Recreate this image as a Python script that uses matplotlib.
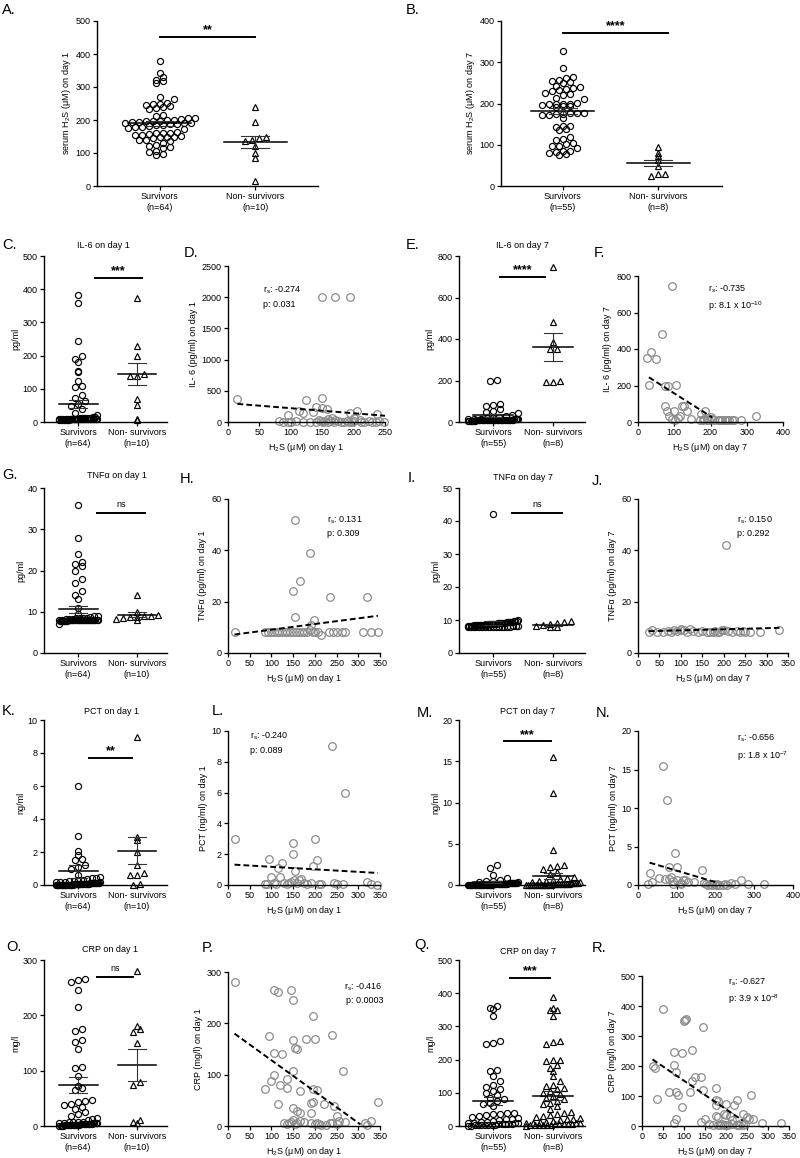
import numpy as np
import matplotlib
matplotlib.use("Agg")
import matplotlib.pyplot as plt

plt.rcParams['font.family'] = ['Liberation Sans', 'DejaVu Sans']
plt.rcParams['mathtext.fontset'] = 'custom'
plt.rcParams['mathtext.rm'] = 'Liberation Sans'
plt.rcParams['mathtext.it'] = 'Liberation Sans:italic'
plt.rcParams['mathtext.default'] = 'regular'

# ---------------- data ----------------
groups = ['Survivors', 'Non- survivors']
n_day1 = [64, 10]
n_day7 = [55, 8]

# A. serum H2S day 1
A_surv = [380, 343, 330, 322, 318, 312, 270, 263, 252, 250, 248, 246, 243, 240, 236, 234,
          216, 212, 207, 205, 203, 200, 200, 198, 197, 196, 195, 194, 192, 190, 190, 189,
          188, 186, 185, 182, 180, 178, 175, 172, 165, 162, 160, 160, 158, 156, 155, 153,
          150, 150, 148, 145, 140, 138, 135, 130, 125, 120, 118, 115, 107, 104, 97, 93]
A_non = [238, 195, 150, 146, 140, 137, 120, 100, 84, 15]
A_mean = [190, 133]
A_sem = [8, 19]

# B. serum H2S day 7
B_surv = [328, 285, 265, 262, 257, 255, 253, 250, 242, 240, 238, 236, 233, 230, 226, 222,
          220, 213, 210, 201, 200, 200, 200, 199, 197, 195, 193, 192, 178, 177, 176, 175,
          174, 173, 172, 165, 145, 145, 143, 138, 135, 118, 115, 112, 105, 101, 98, 96,
          92, 86, 84, 82, 80, 78, 74]
B_non = [95, 80, 73, 62, 48, 30, 28, 25]
B_mean = [181, 56]
B_sem = [7, 8]

# C. IL-6 day 1
C_surv = [382, 358, 245, 198, 190, 182, 155, 150, 125, 108, 104, 80, 72, 62, 55, 48, 38, 28, 22,
          15, 14, 13, 12, 12, 11, 11, 11, 10, 10, 10, 10, 10, 10, 10, 10, 10, 10,
          9, 9, 9, 9, 9, 9, 9, 9, 9, 8, 8, 8, 8, 8, 8, 8, 8, 8, 8, 7, 7, 7, 7, 7, 6, 6, 5]
C_non = [375, 230, 200, 145, 140, 138, 70, 50, 10, 5]
C_mean = [53, 145]
C_sem = [12, 33]

# D. IL-6 vs H2S day 1
D_x = [15, 150, 170, 195, 125, 150, 140, 150, 157, 135, 120, 113, 95, 205, 195, 238, 160, 165,
       170, 145, 200, 210, 82, 88, 95, 100, 108, 120, 130, 140, 148, 152, 155, 160, 163, 168,
       175, 180, 185, 190, 193, 198, 201, 212, 216, 225, 230, 235, 240, 248]
D_y = [370, 2000, 2000, 2000, 355, 380, 240, 230, 215, 160, 140, 170, 120, 180, 150, 135, 50, 60,
       40, 25, 60, 30, 10, 8, 5, 5, 10, 8, 5, 8, 12, 5, 10, 8, 15, 5,
       10, 8, 5, 12, 8, 5, 10, 8, 5, 10, 8, 5, 10, 8]
D_fit_x = [15, 250]
D_fit_y = [290, 100]

# E. IL-6 day 7
E_surv = [202, 197, 85, 80, 75, 62, 55, 48, 42, 35, 30, 25, 20,
          18, 16, 15, 15, 14, 14, 13, 13, 12, 12, 12, 11, 11, 11, 10, 10, 10, 10, 10, 10, 10, 10,
          9, 9, 9, 9, 9, 9, 9, 8, 8, 8, 8, 8, 8, 8, 7, 7, 7, 6, 6, 5]
E_non = [745, 480, 385, 352, 350, 200, 195, 193]
E_mean = [32, 362]
E_sem = [7, 66]

# F. IL-6 vs H2S day 7
F_x = [95, 65, 35, 25, 50, 30, 75, 82, 105, 75, 80, 100, 85, 120, 128, 135, 115, 145, 175, 182,
       185, 200, 205, 95, 102, 110, 170, 178, 190, 195, 210, 220, 225, 232, 240, 245, 252, 258,
       265, 285, 325]
F_y = [745, 480, 385, 350, 345, 205, 195, 195, 205, 90, 60, 60, 35, 85, 85, 60, 35, 15, 45, 15,
       60, 30, 15, 15, 10, 20, 10, 10, 10, 10, 10, 12, 10, 10, 10, 10, 12, 10,
       10, 10, 35]
F_fit_x = [30, 205]
F_fit_y = [245, 25]

# G. TNFa day 1
G_surv = [36, 28, 24, 22, 21.5, 21, 20, 18, 17, 15, 14, 13, 11, 9.5, 9,
          9.0, 8.8, 8.6, 8.5, 8.5, 8.4, 8.3, 8.2, 8.2, 8.1, 8.1, 8.0, 8.0, 8.0, 8.0, 8.0,
          8.0, 8.0, 8.0, 8.0, 8.0, 8.0, 8.0, 8.0, 8.0, 8.0, 8.0, 8.0, 8.0, 8.0, 7.9, 7.9,
          7.9, 7.9, 7.9, 7.9, 7.9, 7.9, 7.9, 7.9, 7.8, 7.8, 7.8, 7.8, 7.8, 7.8, 7.8, 7.8, 7.0]
G_non = [14, 10, 9.2, 9, 8.9, 8.8, 8.7, 8.5, 8.2, 8.0]
G_mean = [10.6, 9.3]
G_sem = [0.8, 0.6]

# H. TNFa vs H2S day 1
H_x = [155, 188, 165, 150, 235, 320, 155, 198, 190, 15, 85, 92, 100, 106, 112, 118, 125, 131,
       137, 143, 150, 157, 163, 170, 176, 182, 188, 195, 201, 207, 215, 232, 242, 252, 262, 270,
       310, 330, 345]
H_y = [52, 39, 28, 24, 22, 22, 14, 13, 11, 8, 8, 8, 8, 8, 8, 8, 8, 8,
       8, 8, 8, 8, 8, 8, 8, 8, 9, 8, 8, 8, 7, 8, 8, 8, 8, 8,
       8, 8, 8]
H_fit_x = [15, 345]
H_fit_y = [7.2, 14.5]

# I. TNFa day 7
I_surv = [42, 10.0, 9.8, 9.7, 9.6, 9.5, 9.5, 9.4, 9.3, 9.3, 9.2, 9.1, 9.1, 9.0, 9.0, 9.0,
          8.9, 8.9, 8.8, 8.8, 8.7, 8.7, 8.6, 8.6, 8.6, 8.5, 8.5, 8.5, 8.4, 8.4, 8.4, 8.3,
          8.3, 8.2, 8.2, 8.2, 8.1, 8.1, 8.1, 8.0, 8.0, 8.0, 8.0, 8.0, 8.0, 8.0, 8.0, 7.9,
          7.9, 7.9, 7.9, 7.8, 7.8, 7.8, 7.8]
I_non = [9.6, 9.3, 9.0, 8.7, 8.4, 8.2, 8.0, 7.9]
I_mean = [9.2, 8.5]
I_sem = [0.6, 0.2]

# J. TNFa vs H2S day 7
J_x = [205, 25, 32, 45, 58, 70, 78, 85, 90, 97, 100, 108, 115, 122, 128, 140, 150, 162, 168,
       175, 180, 185, 190, 195, 200, 210, 220, 230, 238, 245, 250, 262, 285, 328]
J_y = [42, 8, 9, 8, 8, 8.5, 8, 9, 8.5, 9, 9.5, 9, 8, 9.5, 8.5, 8, 8.5, 8, 8,
       8, 8.5, 8, 8, 9, 9, 8.5, 8, 8.5, 8, 8.5, 8, 8, 8, 9]
J_fit_x = [25, 330]
J_fit_y = [8.5, 9.8]

# K. PCT day 1
K_surv = [6.0, 3.0, 2.05, 1.8, 1.6, 1.5, 1.2, 1.1, 1.0, 0.6, 0.5, 0.45, 0.4, 0.35, 0.3, 0.3,
          0.25, 0.25, 0.2, 0.2, 0.2, 0.18, 0.15, 0.15, 0.15, 0.12, 0.12, 0.1, 0.1, 0.1, 0.1,
          0.1, 0.08, 0.08, 0.08, 0.08, 0.06, 0.06, 0.06, 0.05, 0.05, 0.05, 0.05, 0.05, 0.04,
          0.04, 0.04, 0.03, 0.03, 0.03, 0.03, 0.02, 0.02, 0.02, 0.02, 0.01, 0.01, 0.01, 0.01,
          0.0, 0.0, 0.0, 0.0, 0.0]
K_non = [9.0, 2.9, 2.7, 2.0, 1.2, 0.7, 0.6, 0.6, 0.05, 0.0]
K_mean = [0.82, 2.07]
K_sem = [0.38, 0.82]

# L. PCT vs H2S day 1
L_x = [15, 240, 270, 200, 150, 150, 95, 205, 125, 195, 115, 155, 120, 100, 320, 85, 90, 105,
       110, 130, 135, 140, 145, 152, 158, 163, 168, 175, 182, 190, 210, 215, 245, 250, 265,
       330, 342]
L_y = [3, 9, 6, 3, 2.7, 2, 1.7, 1.6, 1.45, 1.25, 1.1, 0.9, 0.55, 0.5, 0.2, 0.05, 0.05, 0.1,
       0.05, 0.1, 0.05, 0.1, 0.2, 0.3, 0.1, 0.35, 0.4, 0.1, 0.05, 0.1, 0.05, 0.05, 0.1, 0.05,
       0.05, 0.05, 0.02]
L_fit_x = [15, 345]
L_fit_y = [1.32, 0.78]

# M. PCT day 7
M_surv = [2.4, 2.1, 1.2, 0.8, 0.6, 0.5, 0.45, 0.4, 0.35, 0.3, 0.3, 0.28, 0.25, 0.25, 0.22,
          0.2, 0.2, 0.2, 0.18, 0.15, 0.15, 0.15, 0.12, 0.12, 0.1, 0.1, 0.1, 0.1, 0.1, 0.08,
          0.08, 0.08, 0.06, 0.06, 0.05, 0.05, 0.05, 0.05, 0.04, 0.04, 0.03, 0.03, 0.03, 0.02,
          0.02, 0.02, 0.02, 0.01, 0.01, 0.01, 0.0, 0.0, 0.0, 0.0, 0.0]
M_non = [15.5, 11.1, 4.2, 2.45, 2.3, 2.2, 1.9, 1.6, 1.3, 1.0, 0.8, 0.7, 0.6, 0.5, 0.45, 0.4,
         0.35, 0.3, 0.3, 0.25, 0.2, 0.2, 0.18, 0.15, 0.15, 0.12, 0.1, 0.1, 0.1, 0.08, 0.08,
         0.06, 0.05, 0.05, 0.04, 0.03, 0.03, 0.02, 0.02, 0.01, 0.01, 0.0, 0.0, 0.0, 0.0]
M_mean = [0.35, 1.05]
M_sem = [0.1, 0.38]

# N. PCT vs H2S day 7
N_x = [65, 75, 95, 80, 100, 165, 30, 55, 70, 80, 85, 90, 100, 110, 115, 120, 130, 145, 35, 25,
       90, 110, 170, 175, 180, 185, 190, 195, 200, 205, 210, 220, 225, 230, 240, 250, 265, 285,
       325]
N_y = [15.5, 11.1, 4.2, 2.4, 2.4, 2.0, 1.6, 0.9, 0.8, 0.8, 1.1, 0.5, 0.6, 0.3, 0.7, 0.7, 0.4,
       0.4, 0.4, 0.1, 0.1, 0.1, 0.2, 0.1, 0.05, 0.1, 0.05, 0.1, 0.05, 0.1, 0.05, 0.05, 0.1,
       0.05, 0.2, 0.1, 0.6, 0.1, 0.1]
N_fit_x = [30, 205]
N_fit_y = [2.9, 0.3]

# O. CRP day 1
O_surv = [265, 263, 261, 245, 215, 175, 172, 155, 152, 140, 107, 105, 90, 72, 68, 65, 47, 45,
          43, 40, 38, 35, 30, 25, 22, 18, 15, 12, 10, 8, 8, 7, 7, 6, 6, 5, 5, 5, 5, 4, 4, 4,
          4, 3, 3, 3, 3, 3, 2, 2, 2, 2, 2, 2, 1, 1, 1, 1, 1, 1, 0.5, 0.5, 0.5, 0.5]
O_non = [280, 180, 175, 170, 150, 80, 75, 10, 8, 5]
O_mean = [74, 111]
O_sem = [15, 29]

# P. CRP vs H2S day 1
P_x = [15, 105, 115, 145, 150, 195, 95, 240, 180, 200, 150, 155, 158, 105, 125, 150, 265, 85,
       100, 105, 120, 135, 135, 165, 195, 205, 115, 190, 196, 220, 245, 250, 150, 160, 165, 190,
       345, 330, 315, 320, 270, 255, 250, 240, 215, 205, 200, 190, 175, 165, 160, 155, 150, 145,
       140, 135, 130, 235, 225, 210]
P_y = [280, 265, 262, 265, 245, 215, 175, 178, 170, 170, 168, 152, 150, 142, 140, 107, 107, 73,
       88, 100, 80, 75, 92, 68, 72, 70, 42, 45, 47, 43, 38, 20, 35, 30, 25, 25,
       47, 10, 5, 2, 7, 10, 3, 5, 2, 5, 3, 5, 8, 10, 5, 3, 12, 8,
       5, 3, 5, 5, 2, 3]
P_fit_x = [15, 305]
P_fit_y = [180, 3]

# Q. CRP day 7
Q_surv = [360, 355, 352, 330, 255, 250, 248, 168, 165, 150, 135, 122, 118, 112, 105, 100, 92,
          85, 80, 75, 70, 65, 60, 40, 38, 36, 35, 33, 30, 28, 25, 22, 20, 18, 15, 13, 12, 10,
          10, 8, 8, 7, 6, 5, 5, 5, 4, 4, 3, 3, 2, 2, 2, 1, 1]
Q_non = [390, 355, 350, 348, 330, 255, 252, 248, 200, 198, 195, 185, 175, 165, 150, 135, 125,
         120, 115, 110, 105, 100, 95, 90, 85, 80, 75, 70, 65, 60, 50, 42, 38, 35, 32, 30, 28,
         25, 22, 20, 18, 15, 13, 12, 10, 10, 8, 8, 7, 6, 5, 5, 5, 4, 4, 3, 3, 2, 2, 1]
Q_mean = [75, 91]
Q_sem = [12, 13]

# R. CRP vs H2S day 7
R_x = [50, 100, 103, 105, 145, 120, 75, 95, 25, 30, 75, 80, 125, 140, 120, 175, 145, 65, 80, 85,
       115, 260, 35, 95, 175, 180, 225, 200, 220, 175, 82, 75, 150, 140, 175, 180, 195, 200,
       210, 215, 240, 250, 255, 265, 285, 330, 160, 170, 180, 185, 190, 195, 200, 205, 215, 225,
       230, 235, 240, 245]
R_y = [390, 350, 355, 358, 330, 255, 248, 245, 200, 195, 205, 180, 165, 165, 150, 128, 120, 115,
       112, 105, 112, 102, 90, 62, 88, 85, 88, 75, 70, 70, 25, 10, 25, 15, 35, 30, 40, 38,
       35, 20, 40, 30, 25, 22, 10, 10, 8, 5, 5, 3, 8, 2, 5, 3, 8, 5,
       3, 10, 5, 8]
R_fit_x = [25, 240]
R_fit_y = [222, 18]

# ---------------- figure ----------------
W, H = 800, 1158
fig = plt.figure(figsize=(W / 100, H / 100), dpi=100)
GRAY = '#8c8c8c'
FS = 6.5


def px_axes(l, t, r, b):
    return fig.add_axes([l / W, 1 - b / H, (r - l) / W, (b - t) / H])


def style(ax):
    for s in ['top', 'right']:
        ax.spines[s].set_visible(False)
    for s in ['left', 'bottom']:
        ax.spines[s].set_linewidth(1.0)
    ax.tick_params(direction='out', length=3, width=0.9, labelsize=FS, pad=1.5)


def swarm(ax, xc, vals, maxw, rowh=6.0, gap=7.0):
    # spread points of similar value sideways, graphpad style
    vals = np.asarray(vals, float)
    pts = ax.transData.transform(np.column_stack([np.full(len(vals), xc), vals]))
    unit = ax.transData.transform((1, 0))[0] - ax.transData.transform((0, 0))[0]
    base = ax.transData.transform((0, 0))[1]
    rows = {}
    for i in np.argsort(vals):
        rows.setdefault(int(round((pts[i, 1] - base) / rowh)), []).append(i)
    xs = pts[:, 0].copy()
    half = maxw * unit
    for idx in rows.values():
        n = len(idx)
        g = gap if n < 2 or (n - 1) * gap <= 2 * half else 2 * half / (n - 1)
        for j, i in enumerate(idx):
            xs[i] += (j - (n - 1) / 2) * g
    return ax.transData.inverted().transform(np.column_stack([xs, pts[:, 1]]))[:, 0]


def dot_panel(box, xlim, surv, non, means, sems, ymax, ystep, ylabel, ns, sig, maxw):
    ax = px_axes(*box)
    style(ax)
    ax.set_xlim(*xlim)
    ax.set_ylim(0, ymax)
    ax.set_yticks(np.arange(0, ymax + ystep / 2, ystep))
    ax.set_xticks([0, 1])
    ax.set_xticklabels(['%s\n(n=%d)' % (g, n) for g, n in zip(groups, ns)], fontsize=FS)
    ax.set_ylabel(ylabel, fontsize=FS, labelpad=2)
    for k, (vals, mk) in enumerate([(surv, 'o'), (non, '^')]):
        xs = swarm(ax, k, vals, maxw[k])
        ax.plot(xs, vals, ls='none', marker=mk, ms=4.4, mfc='none', mec='black', mew=0.85,
                clip_on=False, zorder=3)
        ax.plot([k - 0.33, k + 0.33], [means[k]] * 2, color='black', lw=1.1, zorder=4)
        for v in (means[k] - sems[k], means[k] + sems[k]):
            ax.plot([k - 0.15, k + 0.15], [v, v], color='#333333', lw=0.8, zorder=4)
        ax.plot([k, k], [means[k] - sems[k], means[k] + sems[k]], color='#333333', lw=0.8, zorder=4)
    y, x0, x1, label = sig
    ax.plot([x0, x1], [y, y], color='black', lw=1.4, clip_on=False)
    if label == 'ns':
        ax.annotate(label, ((x0 + x1) / 2, y), xytext=(0, 3), textcoords='offset points',
                    ha='center', va='bottom', fontsize=FS)
    else:
        ax.annotate(label, ((x0 + x1) / 2, y), xytext=(0, 0.5), textcoords='offset points',
                    ha='center', va='bottom', fontsize=9, fontweight='bold')
    return ax


def corr_panel(box, xs, ys, fx, fy, xmax, xstep, ymax, ystep, xlabel, ylabel, stat, tpos, ha='left'):
    ax = px_axes(*box)
    style(ax)
    ax.set_xlim(0, xmax)
    ax.set_ylim(0, ymax)
    ax.set_xticks(np.arange(0, xmax + xstep / 2, xstep))
    ax.set_yticks(np.arange(0, ymax + ystep / 2, ystep))
    ax.plot(xs, ys, ls='none', marker='o', ms=5.5, mfc='none', mec=GRAY, mew=0.9, clip_on=False)
    ax.plot(fx, fy, ls=(0, (3, 1.6)), color='black', lw=1.4)
    ax.set_xlabel(xlabel, fontsize=FS, labelpad=3)
    ax.set_ylabel(ylabel, fontsize=FS, labelpad=3)
    ax.text(tpos[0], tpos[1], 'r$_s$: %s\np: %s' % stat, transform=ax.transAxes, ha=ha,
            va='top', fontsize=FS, linespacing=1.5)
    return ax


def plabel(x, y, s):
    fig.text(x / W, 1 - y / H, s, fontsize=10.5, va='center', ha='left')


def ptitle(x, y, s):
    fig.text(x / W, 1 - y / H, s, fontsize=FS, va='center', ha='center')


h2s1 = 'H$_2$S (μM) on day 1'
h2s7 = 'H$_2$S (μM) on day 7'

# row 1
dot_panel((97, 21, 318, 186), (-0.66, 1.66), A_surv, A_non, A_mean, A_sem, 500, 100,
          'serum H$_2$S (μM) on day 1', n_day1, (452, 0, 1, '**'), (0.38, 0.3))
dot_panel((501, 21, 722, 186), (-0.65, 1.67), B_surv, B_non, B_mean, B_sem, 400, 100,
          'serum H$_2$S (μM) on day 7', n_day7, (372, 0, 1.1, '****'), (0.4, 0.3))
plabel(2, 10, 'A.')
plabel(406, 10, 'B.')

# row 2: IL-6
dot_panel((44, 256, 167, 422), (-0.58, 1.51), C_surv, C_non, C_mean, C_sem, 500, 100,
          'pg/ml', n_day1, (435, 0.29, 1.08, '***'), (0.32, 0.3))
corr_panel((228, 266, 385, 422), D_x, D_y, D_fit_x, D_fit_y, 250, 50, 2500, 500,
           h2s1, 'IL- 6 (pg/ml) on day 1', ('-0.274', '0.031'), (0.22, 0.88))
dot_panel((459, 256, 585, 422), (-0.57, 1.53), E_surv, E_non, E_mean, E_sem, 800, 200,
          'pg/ml', n_day7, (700, 0.12, 0.87, '****'), (0.42, 0.3))
corr_panel((638, 276, 783, 422), F_x, F_y, F_fit_x, F_fit_y, 400, 100, 800, 200,
           h2s7, 'IL- 6 (pg/ml) on day 7', ('-0.735', '8.1 x 10$^{-10}$'), (0.48, 0.95))
plabel(2, 245, 'C.'); plabel(184, 253, 'D.'); plabel(406, 245, 'E.'); plabel(594, 253, 'F.')
ptitle(103, 246, 'IL-6 on day 1'); ptitle(522, 246, 'IL-6 on day 7')

# row 3: TNFa
dot_panel((44, 488, 167, 653), (-0.58, 1.51), G_surv, G_non, G_mean, G_sem, 40, 10,
          'pg/ml', n_day1, (34, 0.32, 1.14, 'ns'), (0.33, 0.35))
corr_panel((228, 499, 380, 653), H_x, H_y, H_fit_x, H_fit_y, 350, 50, 60, 20,
           h2s1, 'TNFα (pg/ml) on day 1', ('0.131', '0.309'), (0.65, 0.9))
dot_panel((459, 488, 585, 653), (-0.57, 1.53), I_surv, I_non, I_mean, I_sem, 50, 10,
          'pg/ml', n_day7, (42.5, 0.32, 1.15, 'ns'), (0.42, 0.35))
corr_panel((638, 499, 788, 653), J_x, J_y, J_fit_x, J_fit_y, 350, 50, 60, 20,
           h2s7, 'TNFα (pg/ml) on day 7', ('0.150', '0.292'), (0.66, 0.9))
plabel(2, 475, 'G.'); plabel(180, 479, 'H.'); plabel(408, 478, 'I.'); plabel(592, 481, 'J.')
ptitle(117, 476, 'TNFα on day 1'); ptitle(523, 477, 'TNFα on day 7')

# row 4: PCT
dot_panel((44, 720, 167, 885), (-0.58, 1.51), K_surv, K_non, K_mean, K_sem, 10, 2,
          'ng/ml', n_day1, (7.72, 0.19, 0.92, '**'), (0.38, 0.3))
corr_panel((228, 731, 380, 885), L_x, L_y, L_fit_x, L_fit_y, 350, 50, 10, 2,
           h2s1, 'PCT (ng/ml) on day 1', ('-0.240', '0.089'), (0.145, 1.0))
dot_panel((459, 720, 585, 885), (-0.57, 1.53), M_surv, M_non, M_mean, M_sem, 20, 5,
          'ng/ml', n_day7, (17.4, 0.18, 0.97, '***'), (0.42, 0.45))
corr_panel((638, 731, 793, 885), N_x, N_y, N_fit_x, N_fit_y, 400, 100, 20, 5,
           h2s7, 'PCT (ng/ml) on day 7', ('-0.656', '1.8 x 10$^{-7}$'), (0.64, 0.99))
plabel(2, 711, 'K.'); plabel(212, 711, 'L.'); plabel(417, 713, 'M.'); plabel(596, 713, 'N.')
ptitle(111, 712, 'PCT on day 1'); ptitle(528, 712, 'PCT on day 7')

# row 5: CRP
dot_panel((44, 960, 167, 1126), (-0.58, 1.51), O_surv, O_non, O_mean, O_sem, 300, 100,
          'mg/l', n_day1, (268.6, 0.32, 0.93, 'ns'), (0.32, 0.3))
corr_panel((228, 972, 380, 1126), P_x, P_y, P_fit_x, P_fit_y, 350, 50, 300, 100,
           h2s1, 'CRP (mg/l) on day 1', ('-0.416', '0.0003'), (1.02, 0.94), ha='right')
dot_panel((459, 960, 585, 1126), (-0.57, 1.53), Q_surv, Q_non, Q_mean, Q_sem, 500, 100,
          'mg/l', n_day7, (447, 0.28, 0.95, '***'), (0.42, 0.45))
corr_panel((642, 976, 789, 1126), R_x, R_y, R_fit_x, R_fit_y, 350, 50, 500, 100,
           h2s7, 'CRP (mg/l) on day 7', ('-0.627', '3.9 x 10$^{-8}$'), (0.585, 1.0))
plabel(6, 947, 'O.'); plabel(202, 948, 'P.'); plabel(414, 945, 'Q.'); plabel(592, 948, 'R.')
ptitle(110, 950, 'CRP on day 1'); ptitle(528, 952, 'CRP on day 7')

fig.savefig('out.png', dpi=100)
